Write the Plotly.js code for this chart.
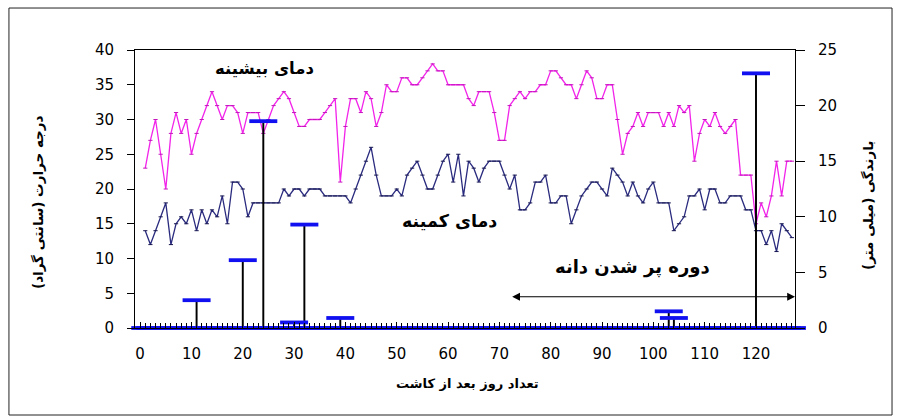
<!DOCTYPE html>
<html>
<head>
<meta charset="utf-8">
<script src="https://cdn.plot.ly/plotly-3.0.1.min.js"></script>
<style>
  html, body { margin: 0; padding: 0; background: #ffffff; }
  #chart { width: 904px; height: 419px; }
</style>
</head>
<body>
<div id="chart"></div>
<script>
// ---- Data ----
// Daily maximum temperature (°C), days 1..127 after sowing
const tMax = [
  23, 27, 30, 25, 20, 28, 31, 28, 30, 25,
  28, 30, 32, 34, 32, 30, 32, 32, 31, 28,
  31, 31, 31, 28, 30, 32, 33, 34, 33, 31,
  29, 29, 30, 30, 30, 31, 32, 33, 21, 29,
  33, 33, 31, 34, 33, 29, 31, 35, 34, 34,
  36, 36, 35, 35, 36, 37, 38, 37, 37, 35,
  35, 35, 35, 33, 32, 34, 34, 34, 31, 27,
  27, 32, 33, 34, 33, 34, 34, 35, 35, 37,
  37, 36, 35, 35, 33, 35, 37, 36, 33, 33,
  35, 35, 30, 25, 28, 29, 31, 29, 31, 31,
  31, 29, 31, 29, 32, 31, 32, 24, 28, 30,
  29, 31, 29, 28, 29, 30, 22, 22, 22, 15,
  18, 16, 19, 24, 19, 24, 24
];
// Daily minimum temperature (°C)
const tMin = [
  14, 12, 14, 16, 18, 12, 15, 16, 15, 17,
  14, 17, 15, 17, 16, 19, 15, 21, 21, 20,
  16, 18, 18, 18, 18, 18, 18, 20, 19, 20,
  20, 19, 20, 20, 20, 19, 19, 19, 19, 19,
  18, 20, 22, 24, 26, 22, 19, 19, 19, 20,
  19, 22, 23, 24, 22, 20, 20, 22, 24, 25,
  21, 25, 19, 24, 23, 21, 23, 24, 24, 24,
  22, 20, 22, 17, 17, 18, 21, 21, 22, 18,
  18, 19, 19, 15, 17, 19, 20, 21, 21, 20,
  19, 23, 22, 21, 19, 21, 19, 18, 20, 21,
  18, 18, 18, 14, 15, 16, 19, 19, 20, 17,
  20, 20, 18, 18, 19, 19, 19, 17, 17, 14,
  14, 12, 14, 11, 15, 14, 13
];
// Rain events (mm)
const rainDays = [11, 20, 24, 30, 32, 39, 103, 104, 120];
const rainMm   = [2.5, 6.1, 18.6, 0.5, 9.3, 0.9, 1.5, 0.9, 22.9];
// Tick labels
const xTicks = [0, 10, 20, 30, 40, 50, 60, 70, 80, 90, 100, 110, 120];
// Grain filling period (days)
const grainFillStart = 72.2;
const grainFillEnd = 127.6;

// Day index for each daily value
const days = tMax.map((_, i) => i + 1);
// Daily rain series (zero on days without rain)
const rainDaily = days.map(d => {
  const k = rainDays.indexOf(d);
  return k >= 0 ? rainMm[k] : 0;
});

const FONT = 'DejaVu Sans, Liberation Sans, sans-serif';

const traces = [
  {
    x: days, y: tMax, type: 'scatter', mode: 'lines+markers',
    line: { color: '#f224ea', width: 1.3 },
    marker: { symbol: 'line-ew', size: 3, color: '#c414bc', line: { color: '#c414bc', width: 1 } },
    xaxis: 'x', yaxis: 'y', hoverinfo: 'skip', showlegend: false
  },
  {
    x: days, y: tMin, type: 'scatter', mode: 'lines+markers',
    line: { color: '#2a2b7e', width: 1.3 },
    marker: { symbol: 'line-ew', size: 3, color: '#161650', line: { color: '#161650', width: 1 } },
    xaxis: 'x', yaxis: 'y', hoverinfo: 'skip', showlegend: false
  },
  {
    x: rainDays, y: rainMm, type: 'bar', width: 0.38,
    marker: { color: '#000000', line: { width: 0 } },
    xaxis: 'x', yaxis: 'y2', hoverinfo: 'skip', showlegend: false
  },
  {
    x: days, y: rainDaily, type: 'scatter', mode: 'markers', cliponaxis: false,
    marker: { symbol: 'line-ew', size: 20, color: '#1010f0', line: { color: '#1010f0', width: 3.8 } },
    xaxis: 'x', yaxis: 'y2', hoverinfo: 'skip', showlegend: false
  }
];

const layout = {
  width: 904, height: 419,
  margin: { l: 135, r: 109, t: 50, b: 91 },
  paper_bgcolor: '#ffffff', plot_bgcolor: '#ffffff',
  showlegend: false,
  barmode: 'overlay',
  font: { family: FONT, color: '#000000', size: 15 },
  xaxis: {
    range: [-1, 127.6], tickvals: xTicks, ticktext: xTicks.map(String),
    ticks: 'inside', ticklen: 6, tickcolor: '#000', tickwidth: 1,
    minor: { dtick: 1, tick0: 0, ticks: 'inside', ticklen: 5, tickcolor: '#000', tickwidth: 1 },
    showline: true, linecolor: '#000', linewidth: 1, mirror: true,
    showgrid: false, zeroline: false,
    tickfont: { family: FONT, size: 15, color: '#000' },
    ticklabelstandoff: 12
  },
  yaxis: {
    range: [0, 40], dtick: 5, tick0: 0,
    ticks: 'outside', ticklen: 7, tickcolor: '#000',
    showline: true, linecolor: '#000', linewidth: 1,
    showgrid: false, zeroline: false,
    tickfont: { family: FONT, size: 15, color: '#000' },
    ticklabelstandoff: 10
  },
  yaxis2: {
    range: [0, 25], dtick: 5, tick0: 0, overlaying: 'y', side: 'right', anchor: 'x',
    ticks: 'outside', ticklen: 9, tickcolor: '#000',
    showline: true, linecolor: '#000', linewidth: 1,
    showgrid: false, zeroline: false,
    tickfont: { family: FONT, size: 15, color: '#000' },
    ticklabelstandoff: 10
  },
  yaxis3: {
    range: [0, 25], dtick: 5, tick0: 0, overlaying: 'y', side: 'right', anchor: 'x',
    ticks: 'inside', ticklen: 9, tickcolor: '#000',
    showticklabels: false, showline: false, showgrid: false, zeroline: false
  },
  shapes: [
    { type: 'rect', xref: 'paper', yref: 'paper', x0: -0.191, x1: 1.147, y0: -0.313, y1: 1.151,
      line: { color: '#222', width: 1 }, fillcolor: 'rgba(0,0,0,0)', layer: 'below' }
  ],
  annotations: [
    { text: 'دمای بیشینه', x: 24.3, y: 37.3, xref: 'x', yref: 'y', showarrow: false,
      font: { family: FONT, size: 16.5, weight: 'bold', color: '#000' } },
    { text: 'دمای کمینه', x: 60.3, y: 15.4, xref: 'x', yref: 'y', showarrow: false,
      font: { family: FONT, size: 17.5, weight: 'bold', color: '#000' } },
    { text: 'دوره پر شدن دانه', x: 96, y: 8.8, xref: 'x', yref: 'y', showarrow: false,
      font: { family: FONT, size: 18, weight: 'bold', color: '#000' } },
    { text: '', x: grainFillEnd, y: 4.5, ax: grainFillStart, ay: 4.5, xref: 'x', yref: 'y',
      axref: 'x', ayref: 'y', showarrow: true, arrowside: 'end+start', arrowhead: 2,
      arrowsize: 1.3, arrowwidth: 1.2, arrowcolor: '#000' },
    { text: 'درجه حرارت (سانتی گراد)', xref: 'paper', yref: 'paper', x: -0.1477, y: 0.4514,
      textangle: -90, showarrow: false, xanchor: 'center', yanchor: 'middle',
      font: { family: FONT, size: 13.5, weight: 'bold', color: '#000' } },
    { text: 'بارندگی (میلی متر)', xref: 'paper', yref: 'paper', x: 1.1106, y: 0.4424,
      textangle: -90, showarrow: false, xanchor: 'center', yanchor: 'middle',
      font: { family: FONT, size: 13.5, weight: 'bold', color: '#000' } },
    { text: 'تعداد روز بعد از کاشت', xref: 'paper', yref: 'paper', x: 0.5045, y: -0.2014,
      showarrow: false, xanchor: 'center', yanchor: 'middle',
      font: { family: FONT, size: 13, weight: 'bold', color: '#000' } }
  ]
};

Plotly.newPlot('chart', traces, layout, { displayModeBar: false, staticPlot: true });
</script>
</body>
</html>
